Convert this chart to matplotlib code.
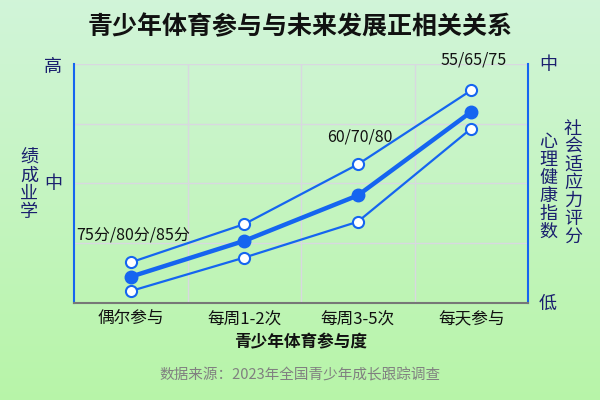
import matplotlib
matplotlib.use("Agg")
import matplotlib.pyplot as plt
import numpy as np

plt.rcParams['font.family'] = ['Noto Sans CJK SC', 'DejaVu Sans']

# categories and the three series (0-100 relative scale)
categories = ['偶尔参与', '每周1-2次', '每周3-5次', '每天参与']
academic = [17, 33, 58, 89]
mental = [11, 26, 45, 80]
social = [5, 19, 34, 73]
point_labels = ['75分/80分/85分', '', '60/70/80', '55/65/75']

blue = '#1565f0'
navy = '#1a1f6e'

fig = plt.figure(figsize=(6, 4), dpi=100)

# gradient background
bg = fig.add_axes([0, 0, 1, 1], zorder=-10)
top = np.array([0.82, 0.96, 0.85])
bottom = np.array([0.72, 0.96, 0.66])
t = np.linspace(0, 1, 200)[:, None]
grad = (top * (1 - t) + bottom * t)[:, None, :]
bg.imshow(grad, aspect='auto', extent=[0, 1, 0, 1])
bg.axis('off')

ax = fig.add_axes([74 / 600, 1 - 303 / 400, 454 / 600, 239 / 400])
ax.set_facecolor('none')

x = np.arange(len(categories))
ax.plot(x, academic, color=blue, lw=1.6, marker='o', ms=8, mfc='white', mec=blue, mew=1.5, zorder=3)
ax.plot(x, mental, color=blue, lw=3.2, marker='o', ms=9, mfc=blue, mec=blue, zorder=3)
ax.plot(x, social, color=blue, lw=1.6, marker='o', ms=8, mfc='white', mec=blue, mew=1.5, zorder=3)

# point annotations
ann_y = [academic[0] + 8, None, academic[2] + 8, academic[3] + 9]
for i, lab in enumerate(point_labels):
    if lab:
        ax.text(x[i] + 0.02, ann_y[i], lab, ha='center', va='bottom', fontsize=11.5, color='#111111')

ax.set_xlim(-0.5, 3.5)
ax.set_ylim(0, 100)
ax.set_xticks(x)
ax.set_xticklabels(categories, fontsize=12, color='#111111', fontweight='medium')
ax.tick_params(axis='x', length=0, pad=6)
ax.set_yticks([0, 25, 50, 75, 100])
ax.set_yticklabels([])
ax.tick_params(axis='y', length=0)

# grid at category boundaries
for gx in [0.5, 1.5, 2.5]:
    ax.axvline(gx, color='#d8d8e0', lw=1, zorder=1)
for gy in [25, 50, 75, 100]:
    ax.axhline(gy, color='#d8d8e0', lw=1, zorder=1)

ax.spines['top'].set_visible(False)
ax.spines['left'].set_color(blue)
ax.spines['right'].set_color(blue)
ax.spines['left'].set_linewidth(1.5)
ax.spines['right'].set_linewidth(1.5)
ax.spines['bottom'].set_color('#777777')
ax.spines['bottom'].set_linewidth(1.5)

ax.set_xlabel('青少年体育参与度', fontsize=12, fontweight='bold', color='#111111', labelpad=4)

# left scale words
fig.text(53 / 600, 1 - 67 / 400, '高', ha='center', va='center', fontsize=13, color=navy)
fig.text(53 / 600, 1 - 184 / 400, '中', ha='center', va='center', fontsize=13, color=navy)
fig.text(29 / 600, 1 - 185 / 400, '绩\n成\n业\n学', ha='center', va='center', fontsize=13,
         color=navy, linespacing=1.0, fontweight='medium')

# right scale words
fig.text(548 / 600, 1 - 65 / 400, '中', ha='center', va='center', fontsize=13, color=navy)
fig.text(548 / 600, 1 - 304 / 400, '低', ha='center', va='center', fontsize=13, color=navy)
fig.text(548 / 600, 1 - 187 / 400, '心\n理\n健\n康\n指\n数', ha='center', va='center', fontsize=13,
         color=navy, linespacing=1.0, fontweight='medium')
fig.text(573 / 600, 1 - 183 / 400, '社\n会\n适\n应\n力\n评\n分', ha='center', va='center', fontsize=13,
         color=navy, linespacing=1.0, fontweight='medium')

fig.text(0.5, 1 - 27 / 400, '青少年体育参与与未来发展正相关关系', ha='center', va='center',
         fontsize=18, fontweight='heavy', color='#111111')
fig.text(0.5, 1 - 375 / 400, '数据来源：2023年全国青少年成长跟踪调查', ha='center', va='center',
         fontsize=10.5, color='#808080')

fig.savefig('out.png', dpi=100)
